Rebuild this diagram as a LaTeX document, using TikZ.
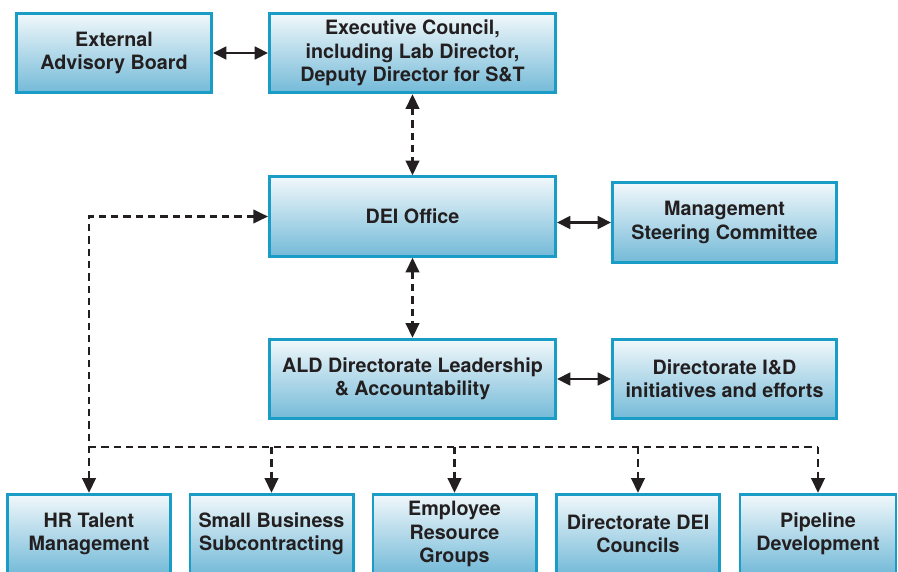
\documentclass[tikz,border=0pt]{standalone}
\usepackage{fontspec}
\setmainfont{TeX Gyre Heros}
\usetikzlibrary{arrows.meta}

\definecolor{rim}{HTML}{199CC6}
\definecolor{shadetop}{HTML}{F1F8FB}
\definecolor{shadebot}{HTML}{74BAD8}
\definecolor{ink}{HTML}{231F20}

\tikzset{
  unit/.style={draw=rim, line width=2.2pt, top color=shadetop, bottom color=shadebot,
    minimum height=59.5pt, inner sep=0pt, align=center, text=ink,
    font=\fontsize{14.8}{17.5}\selectfont\bfseries},
  link/.style={ink, line width=2pt,
    {Triangle[length=10pt,width=9.5pt]}-{Triangle[length=10pt,width=9.5pt]}},
  dlink/.style={ink, line width=2pt, dash pattern=on 5.5pt off 3.75pt},
  tip/.style={-{Triangle[length=11pt,width=10pt]}},
  bothtips/.style={{Triangle[length=11pt,width=10pt]}-{Triangle[length=11pt,width=10pt]}}
}

\begin{document}
\begin{tikzpicture}[x=0.75pt, y=-0.75pt]
    \useasboundingbox (0,0) rectangle (898,571);
    \clip (0,0) rectangle (898,571);

    % top rows
    \node[unit, minimum width=146.3pt] (eab) at (114,53) {External\\Advisory Board};
    \node[unit, minimum width=214.5pt] (exec) at (412.5,53) {Executive Council,\\including Lab Director,\\Deputy Director for S\&T};
    \node[unit, minimum width=214.5pt] (dei) at (412.5,216.5) {DEI Office};
    \node[unit, minimum width=168pt] (msc) at (724.5,222.5) {Management\\Steering Committee};
    \node[unit, minimum width=214.5pt] (ald) at (412.5,379) {ALD Directorate Leadership\\\& Accountability};
    \node[unit, minimum width=168pt] (idi) at (724.5,379) {Directorate I\&D\\initiatives and efforts};

    % bottom row
    \node[unit, minimum width=122.3pt] (hr) at (89,534) {HR Talent\\Management};
    \node[unit, minimum width=122.3pt] (sbc) at (271.5,534) {Small Business\\Subcontracting};
    \node[unit, minimum width=122.3pt] (erg) at (454.5,534) {Employee\\Resource\\Groups};
    \node[unit, minimum width=122.3pt] (ddc) at (638,534) {Directorate DEI\\Councils};
    \node[unit, minimum width=117pt] (pipe) at (818,534) {Pipeline\\Development};

    % solid links
    \draw[link] (eab.east) -- (exec.west);
    \draw[link] (dei.east |- msc.west) -- (msc.west);
    \draw[link] (ald.east) -- (idi.west);

    % dashed links
    \draw[dlink, bothtips] (exec.south) -- (dei.north);
    \draw[dlink, bothtips] (dei.south) -- (ald.north);
    \draw[dlink, bothtips] (dei.west) -| (hr.north);

    \coordinate (bus) at (89,447);
    \draw[dlink] (bus) -- (bus -| pipe.north);
    \foreach \b in {sbc, erg, ddc, pipe} {
        \draw[dlink, tip] (bus -| \b.north) -- (\b.north);
    };
\end{tikzpicture}
\end{document}
